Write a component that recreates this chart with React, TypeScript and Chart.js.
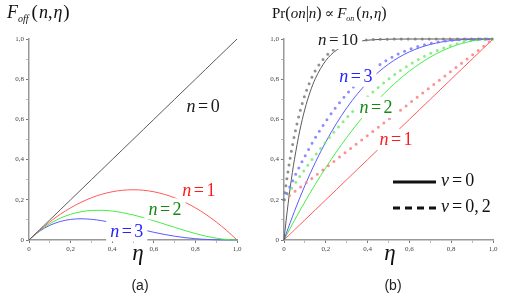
import React, { useEffect, useRef } from "react";
import { Chart, registerables } from "chart.js";
Chart.register(...registerables);

// ---------- data ----------
const ETA = [0, 0.01, 0.02, 0.03, 0.04, 0.05, 0.075, 0.1, 0.125, 0.15, 0.2, 0.25, 0.3, 0.35, 0.4, 0.45, 0.5, 0.55, 0.6, 0.65, 0.7, 0.75, 0.8, 0.85, 0.9, 0.95, 1.0];

// panel (a): F_off(n, eta)
const OFF_N0 = [0, 0.01, 0.02, 0.03, 0.04, 0.05, 0.075, 0.1, 0.125, 0.15, 0.2, 0.25, 0.3, 0.35, 0.4, 0.45, 0.5, 0.55, 0.6, 0.65, 0.7, 0.75, 0.8, 0.85, 0.9, 0.95, 1.0];
const OFF_N1 = [0, 0.0099, 0.0196, 0.0291, 0.0384, 0.0475, 0.0694, 0.09, 0.1094, 0.1275, 0.16, 0.1875, 0.21, 0.2275, 0.24, 0.2475, 0.25, 0.2475, 0.24, 0.2275, 0.21, 0.1875, 0.16, 0.1275, 0.09, 0.0475, 0];
const OFF_N2 = [0, 0.0098, 0.0192, 0.0282, 0.0369, 0.0451, 0.0642, 0.081, 0.0957, 0.1084, 0.128, 0.1406, 0.147, 0.1479, 0.144, 0.1361, 0.125, 0.1114, 0.096, 0.0796, 0.063, 0.0469, 0.032, 0.0191, 0.009, 0.0024, 0];
const OFF_N3 = [0, 0.0097, 0.0188, 0.0274, 0.0354, 0.0429, 0.0594, 0.0729, 0.0837, 0.0921, 0.1024, 0.1055, 0.1029, 0.0961, 0.0864, 0.0749, 0.0625, 0.0501, 0.0384, 0.0279, 0.0189, 0.0117, 0.0064, 0.0029, 0.0009, 0.0001, 0];

// panel (b): Pr(on|n), nu = 0 (solid)
const ON_N1 = [0, 0.01, 0.02, 0.03, 0.04, 0.05, 0.075, 0.1, 0.125, 0.15, 0.2, 0.25, 0.3, 0.35, 0.4, 0.45, 0.5, 0.55, 0.6, 0.65, 0.7, 0.75, 0.8, 0.85, 0.9, 0.95, 1.0];
const ON_N2 = [0, 0.0199, 0.0396, 0.0591, 0.0784, 0.0975, 0.1444, 0.19, 0.2344, 0.2775, 0.36, 0.4375, 0.51, 0.5775, 0.64, 0.6975, 0.75, 0.7975, 0.84, 0.8775, 0.91, 0.9375, 0.96, 0.9775, 0.99, 0.9975, 1];
const ON_N3 = [0, 0.0297, 0.0588, 0.0873, 0.1153, 0.1426, 0.2085, 0.271, 0.3301, 0.3859, 0.488, 0.5781, 0.657, 0.7254, 0.784, 0.8336, 0.875, 0.9089, 0.936, 0.9571, 0.973, 0.9844, 0.992, 0.9966, 0.999, 0.9999, 1];
const ON_N10 = [0, 0.0956, 0.1829, 0.2626, 0.3352, 0.4013, 0.5414, 0.6513, 0.7369, 0.8031, 0.8926, 0.9437, 0.9718, 0.9865, 0.994, 0.9975, 0.999, 0.9997, 0.9999, 1, 1, 1, 1, 1, 1, 1, 1];

// panel (b): nu = 0,2 (dotted)
const NU_N1 = [0.2, 0.208, 0.216, 0.224, 0.232, 0.24, 0.26, 0.28, 0.3, 0.32, 0.36, 0.4, 0.44, 0.48, 0.52, 0.56, 0.6, 0.64, 0.68, 0.72, 0.76, 0.8, 0.84, 0.88, 0.92, 0.96, 1];
const NU_N2 = [0.2, 0.2159, 0.2317, 0.2473, 0.2627, 0.278, 0.3155, 0.352, 0.3875, 0.422, 0.488, 0.55, 0.608, 0.662, 0.712, 0.758, 0.8, 0.838, 0.872, 0.902, 0.928, 0.95, 0.968, 0.982, 0.992, 0.998, 1];
const NU_N3 = [0.2, 0.2238, 0.247, 0.2698, 0.2922, 0.3141, 0.3668, 0.4168, 0.4641, 0.5087, 0.5904, 0.6625, 0.7256, 0.7803, 0.8272, 0.8669, 0.9, 0.9271, 0.9488, 0.9657, 0.9784, 0.9875, 0.9936, 0.9973, 0.9992, 0.9999, 1];
const NU_N10 = [0.2, 0.2765, 0.3463, 0.4101, 0.4682, 0.521, 0.6331, 0.721, 0.7895, 0.8425, 0.9141, 0.955, 0.9774, 0.9892, 0.9952, 0.998, 0.9992, 0.9997, 0.9999, 1, 1, 1, 1, 1, 1, 1, 1];

const TICK_LABELS = ["0", "0,2", "0,4", "0,6", "0,8", "1,0"];

// curve labels (data coordinates)
const A_LABEL_N = ["0", "1", "2", "3"];
const A_LABEL_X = [0.837, 0.817, 0.654, 0.47];
const A_LABEL_Y = [0.667, 0.25, 0.155, 0.045];
const B_LABEL_N = ["10", "3", "2", "1"];
const B_LABEL_X = [0.258, 0.344, 0.44, 0.536];
const B_LABEL_Y = [1.0, 0.815, 0.66, 0.5];

// ---------- styles ----------
const SERIF = '"Liberation Serif", "DejaVu Serif", serif';
const SANS = '"Liberation Sans", Arial, sans-serif';
const it = (s: number) => `italic ${s}px ${SERIF}`;
const up = (s: number) => `${s}px ${SERIF}`;

const C_BLACK = "#5a5a5a";
const C_RED = "#ff5a5a";
const C_GREEN = "#44ee44";
const C_BLUE = "#5a5aff";
const D_BLACK = "rgba(125,125,125,0.85)";
const D_RED = "rgba(255,125,125,0.85)";
const D_GREEN = "rgba(115,235,115,0.85)";
const D_BLUE = "rgba(120,120,255,0.85)";
const A_LABEL_COL = ["#1a1a1a", "#ff1a1a", "#148a14", "#2424ff"];
const B_LABEL_COL = ["#1a1a1a", "#2424ff", "#148a14", "#ff1a1a"];

type Seg = { t: string; f: string; dy?: number; gap?: number };

function segsWidth(ctx: CanvasRenderingContext2D, segs: Seg[]) {
  let w = 0;
  for (const s of segs) {
    ctx.font = s.f;
    w += ctx.measureText(s.t).width + (s.gap || 0);
  }
  return w;
}

function drawSegs(ctx: CanvasRenderingContext2D, segs: Seg[], x: number, baseline: number, color: string, center = false) {
  const w = segsWidth(ctx, segs);
  let cx = center ? x - w / 2 : x;
  ctx.save();
  ctx.fillStyle = color;
  ctx.textAlign = "left";
  ctx.textBaseline = "alphabetic";
  for (const s of segs) {
    ctx.font = s.f;
    ctx.fillText(s.t, cx, baseline + (s.dy || 0));
    cx += ctx.measureText(s.t).width + (s.gap || 0);
  }
  ctx.restore();
  return w;
}

function eqSegs(lhs: string, rhs: string, size: number, gap: number): Seg[] {
  return [
    { t: lhs, f: it(size), gap },
    { t: "=", f: up(size), gap },
    { t: rhs, f: up(size) },
  ];
}

function drawCurveLabels(chart: any, ns: string[], xs: number[], ys: number[], cols: string[]) {
  const ctx: CanvasRenderingContext2D = chart.ctx;
  const sx = chart.scales.x;
  const sy = chart.scales.y;
  ns.forEach((n, i) => {
    const size = n.length > 1 ? 17 : 18;
    const segs = eqSegs("n", n, size, 2.5);
    const w = segsWidth(ctx, segs);
    const px = sx.getPixelForValue(xs[i]);
    const py = sy.getPixelForValue(ys[i]);
    ctx.save();
    ctx.fillStyle = "#ffffff";
    ctx.fillRect(px - w / 2 - 4, py - size * 0.42 - 3, w + 8, size * 0.84 + 6);
    ctx.restore();
    drawSegs(ctx, segs, px, py + size * 0.33, cols[i], true);
  });
}

function fmtTick(v: number) {
  const k = Math.round(v * 10);
  if (k % 2 !== 0) return "";
  return TICK_LABELS[k / 2] ?? "";
}

function axis(kind: "x" | "y", fixed: number) {
  return {
    type: "linear",
    min: 0,
    max: 1,
    ticks: {
      stepSize: 0.1,
      autoSkip: false,
      maxRotation: 0,
      padding: 2,
      color: "#444",
      font: { family: SERIF, size: 7 },
      callback: (v: any) => fmtTick(Number(v)),
    },
    grid: {
      drawOnChartArea: false,
      drawTicks: true,
      tickLength: 3,
      tickWidth: 1,
      tickColor: (c: any) => {
        const v = c && c.tick ? c.tick.value : 0;
        return Math.round(v * 10) % 2 === 0 ? "#777" : "#bbb";
      },
    },
    border: { display: true, color: "#999", width: 1.5 },
    afterFit: (s: any) => {
      if (kind === "x") s.height = fixed;
      else s.width = fixed;
    },
  };
}

const pts = (ys: number[]) => ETA.map((x, i) => ({ x, y: ys[i] }));

function solid(ys: number[], color: string) {
  return {
    data: pts(ys),
    borderColor: color,
    borderWidth: 1,
    pointRadius: 0,
    cubicInterpolationMode: "monotone",
    fill: false,
    clip: 6,
  };
}

function dotted(ys: number[], color: string) {
  return {
    data: pts(ys),
    borderColor: color,
    borderWidth: 3,
    borderDash: [0, 7],
    borderCapStyle: "round",
    pointRadius: 0,
    cubicInterpolationMode: "monotone",
    fill: false,
    clip: 6,
  };
}

function baseOptions(yWidth: number, padRight: number, draw: (chart: any) => void) {
  return {
    options: {
      responsive: false,
      animation: false,
      devicePixelRatio: 1,
      layout: { padding: { top: 39, right: padRight, left: 0, bottom: 0 } },
      plugins: { legend: { display: false }, tooltip: { enabled: false }, title: { display: false } },
      scales: { x: axis("x", 60), y: axis("y", yWidth) },
      events: [],
    },
    plugins: [{ id: "decor", afterDraw: draw }],
  };
}

function drawA(chart: any) {
  const ctx: CanvasRenderingContext2D = chart.ctx;
  drawCurveLabels(chart, A_LABEL_N, A_LABEL_X, A_LABEL_Y, A_LABEL_COL);
  // title F_off(n, eta)
  drawSegs(
    ctx,
    [
      { t: "F", f: it(18) },
      { t: "off", f: it(10), dy: 4, gap: 3 },
      { t: "(", f: up(19), gap: 1 },
      { t: "n", f: it(18) },
      { t: ",", f: up(18), gap: 1 },
      { t: "η", f: it(18), gap: 1 },
      { t: ")", f: up(19) },
    ],
    7,
    18,
    "#111"
  );
  drawSegs(ctx, [{ t: "η", f: it(23) }], 138, 260, "#111", true);
  ctx.save();
  ctx.font = `14px ${SANS}`;
  ctx.fillStyle = "#222";
  ctx.textAlign = "center";
  ctx.fillText("(a)", 140, 290);
  ctx.restore();
}

function drawB(chart: any) {
  const ctx: CanvasRenderingContext2D = chart.ctx;
  drawCurveLabels(chart, B_LABEL_N, B_LABEL_X, B_LABEL_Y, B_LABEL_COL);
  drawSegs(
    ctx,
    [
      { t: "Pr", f: up(15) },
      { t: "(", f: up(16) },
      { t: "on", f: it(15) },
      { t: "|", f: up(16) },
      { t: "n", f: it(15) },
      { t: ")", f: up(16), gap: 3 },
      { t: "∝", f: up(14), gap: 3 },
      { t: "F", f: it(15) },
      { t: "on", f: it(8), dy: 3, gap: 2 },
      { t: "(", f: up(16) },
      { t: "n", f: it(15) },
      { t: ",", f: up(15), gap: 1 },
      { t: "η", f: it(15) },
      { t: ")", f: up(16) },
    ],
    16,
    18,
    "#111"
  );
  drawSegs(ctx, [{ t: "η", f: it(23) }], 134, 260, "#111", true);
  ctx.save();
  ctx.font = `14px ${SANS}`;
  ctx.fillStyle = "#222";
  ctx.textAlign = "center";
  ctx.fillText("(b)", 137, 290);
  // legend
  ctx.strokeStyle = "#111";
  ctx.lineWidth = 3;
  ctx.beginPath();
  ctx.moveTo(137, 182);
  ctx.lineTo(180, 182);
  ctx.stroke();
  ctx.setLineDash([7, 5]);
  ctx.beginPath();
  ctx.moveTo(137, 208);
  ctx.lineTo(180, 208);
  ctx.stroke();
  ctx.restore();
  drawSegs(ctx, eqSegs("ν", "0", 18, 3), 185, 186, "#111");
  drawSegs(
    ctx,
    [
      { t: "ν", f: it(18), gap: 3 },
      { t: "=", f: up(18), gap: 3 },
      { t: "0,", f: up(18), gap: 3 },
      { t: "2", f: up(18) },
    ],
    185,
    212,
    "#111"
  );
}

function PanelA() {
  const ref = useRef<HTMLCanvasElement | null>(null);
  useEffect(() => {
    if (!ref.current) return;
    const base = baseOptions(29, 19, drawA);
    const chart = new Chart(ref.current, {
      type: "line",
      data: {
        datasets: [
          solid(OFF_N0, C_BLACK),
          solid(OFF_N1, C_RED),
          solid(OFF_N2, C_GREEN),
          solid(OFF_N3, C_BLUE),
        ] as any,
      },
      options: base.options as any,
      plugins: base.plugins,
    });
    return () => chart.destroy();
  }, []);
  return <canvas ref={ref} width={256} height={300} style={{ position: "absolute", left: 0, top: 0, display: "block" }} />;
}

function PanelB() {
  const ref = useRef<HTMLCanvasElement | null>(null);
  useEffect(() => {
    if (!ref.current) return;
    const base = baseOptions(28, 20, drawB);
    const chart = new Chart(ref.current, {
      type: "line",
      data: {
        datasets: [
          dotted(NU_N10, D_BLACK),
          dotted(NU_N3, D_BLUE),
          dotted(NU_N2, D_GREEN),
          dotted(NU_N1, D_RED),
          solid(ON_N10, C_BLACK),
          solid(ON_N3, C_BLUE),
          solid(ON_N2, C_GREEN),
          solid(ON_N1, C_RED),
        ] as any,
      },
      options: base.options as any,
      plugins: base.plugins,
    });
    return () => chart.destroy();
  }, []);
  return <canvas ref={ref} width={257} height={300} style={{ position: "absolute", left: 256, top: 0, display: "block" }} />;
}

export default function App() {
  return (
    <div style={{ position: "absolute", left: 0, top: 0, width: 513, height: 300, background: "#ffffff", overflow: "hidden" }}>
      <PanelA />
      <PanelB />
    </div>
  );
}
